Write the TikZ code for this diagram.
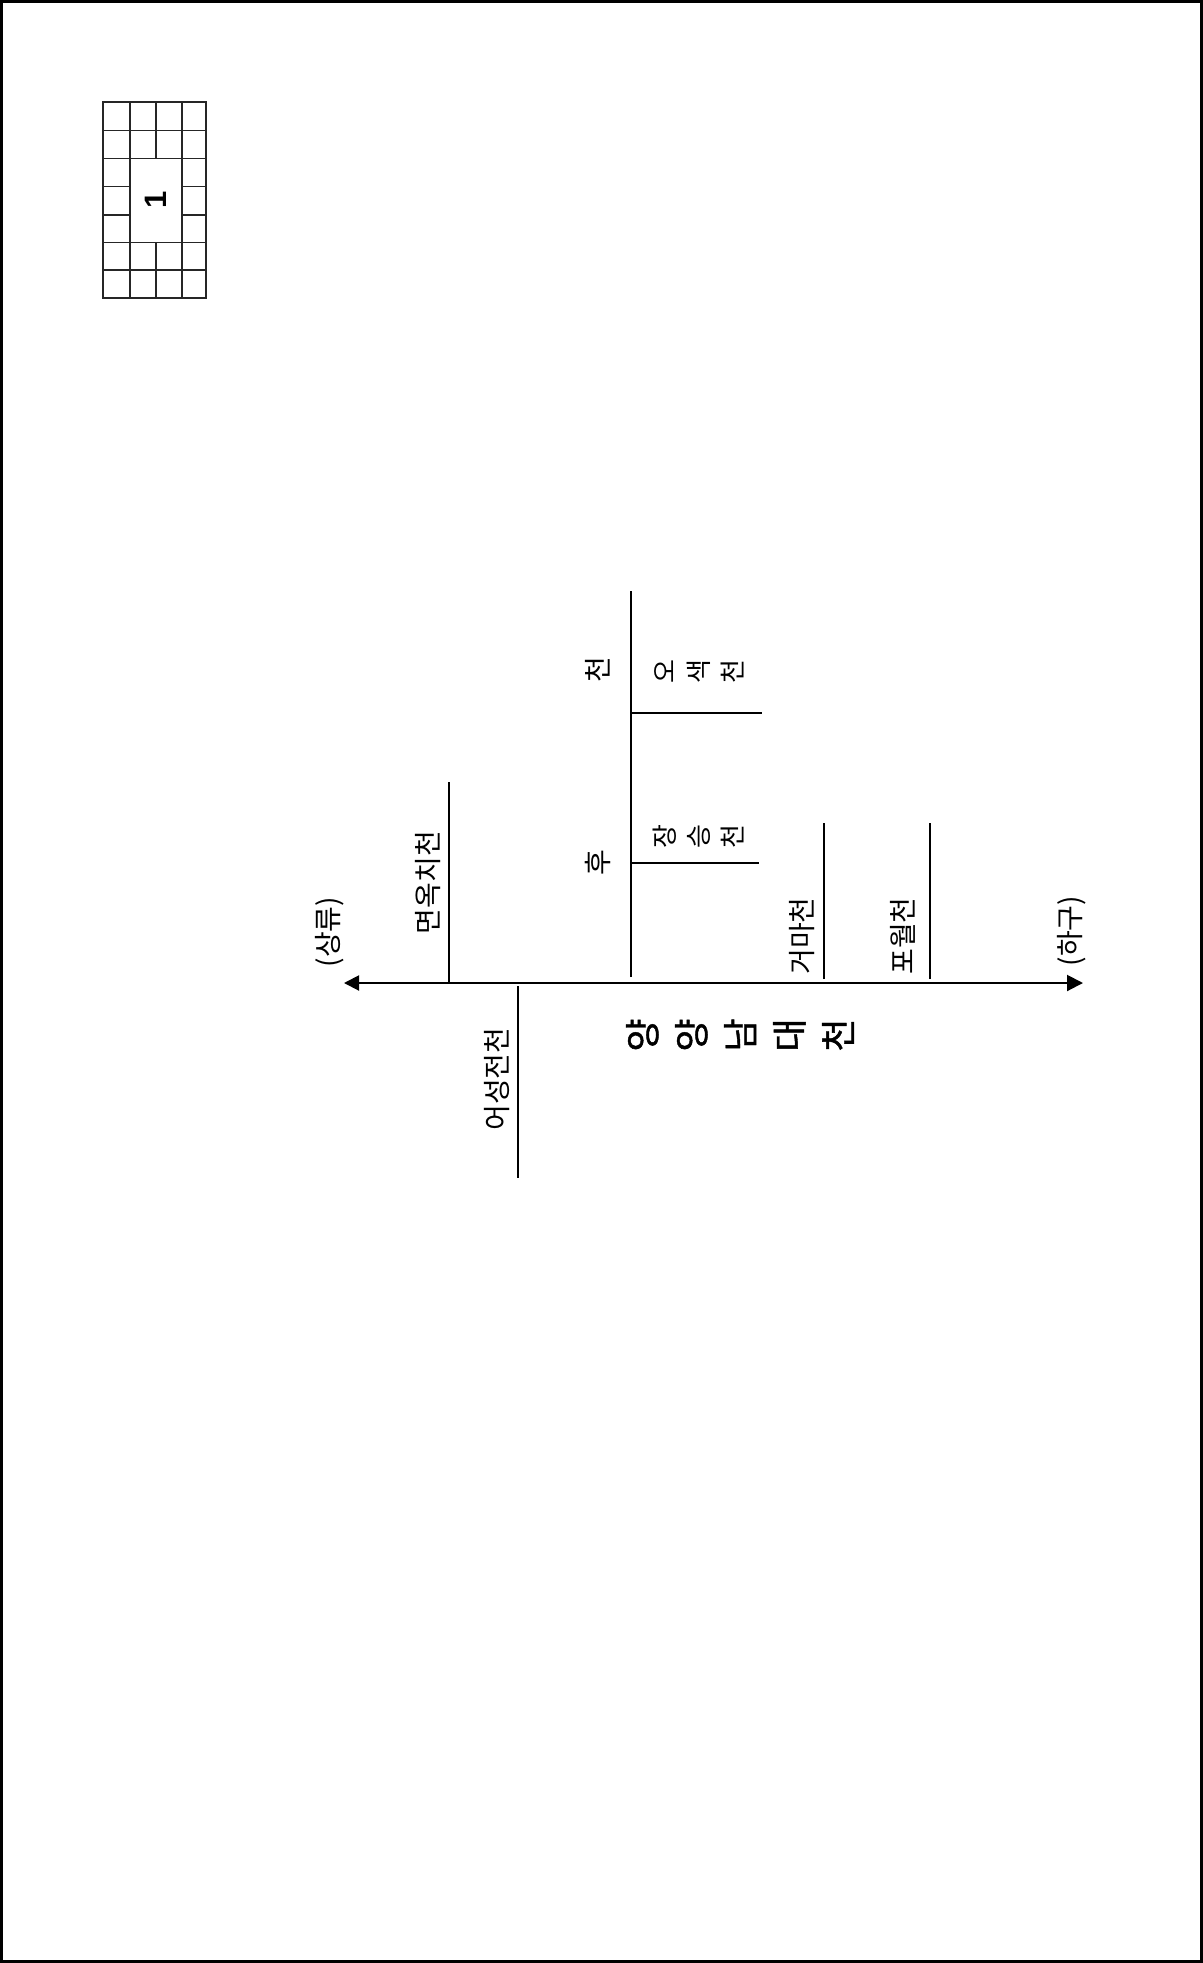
\documentclass[tikz,border=0pt]{standalone}
\usepackage{fontspec}
\setmainfont{Noto Sans CJK KR}
\newfontfamily\arialfont{Liberation Sans}
\newfontfamily\titlefont[FakeBold=1.2]{Noto Sans CJK KR}
\usetikzlibrary{arrows.meta}

\begin{document}
\begin{tikzpicture}[x=0.5pt,y=-0.5pt]
    \tikzset{
        stream/.style={line width=1pt},
        flow/.style={line width=1pt, {Triangle[length=7.5pt,width=7.5pt]}-{Triangle[length=8pt,width=8pt]}},
        rtxt/.style={rotate=90, inner sep=0pt, font=\fontsize{14}{16}\selectfont},
        vtxt/.style={rotate=90, inner sep=0pt, align=center, font=\fontsize{13}{17}\selectfont},
        cell/.style={draw=black!85, line width=0.75pt}
    }
    \useasboundingbox (0,0) rectangle (1203,1963);
    \draw[line width=1.5pt] (1.5,1.5) rectangle (1201.5,1961.5);

    % sheet index
    \draw[cell] (103,102) rectangle (206,298);
    \foreach \y in {130.7,158.3,242.3,270}
        \draw[cell] (103,\y) -- (206,\y);
    \foreach \y in {186.7,215} {
        \draw[cell] (103,\y) -- (130,\y);
        \draw[cell] (182,\y) -- (206,\y);
    }
    \foreach \x in {130,182}
        \draw[cell] (\x,102) -- (\x,298);
    \draw[cell] (156,102) -- (156,158.3);
    \draw[cell] (156,242.3) -- (156,298);
    \node[rotate=90, inner sep=0pt, font=\arialfont\bfseries\fontsize{15.5}{15.5}\selectfont] (sheet) at (156,200) {1};

    % main river
    \coordinate (up) at (344,983);
    \coordinate (down) at (1083,983);
    \draw[flow] (up) -- (down);
    \node[rtxt] (sang) at (330,932) {(상류)};
    \node[rtxt] (hagu) at (1072,931) {(하구)};
    \node[vtxt, font=\titlefont\fontsize{18}{24.5}\selectfont] (main) at (740,1035) {양\\양\\남\\대\\천};

    % tributaries
    \coordinate (myeon0) at (449,983);
    \coordinate (myeon1) at (449,782);
    \coordinate (eo0) at (517.5,986);
    \coordinate (eo1) at (517.5,1178);
    \coordinate (hu0) at (631,977);
    \coordinate (hu1) at (631,591);
    \coordinate (osaek0) at (631,712.7);
    \coordinate (osaek1) at (762,712.7);
    \coordinate (jang0) at (631,862.7);
    \coordinate (jang1) at (759,862.7);
    \coordinate (geoma0) at (824.3,979);
    \coordinate (geoma1) at (824.3,823);
    \coordinate (powol0) at (930.3,979);
    \coordinate (powol1) at (930.3,823);

    \draw[stream] (myeon0) -- (myeon1);
    \draw[stream] (eo0) -- (eo1);
    \draw[stream] (hu0) -- (hu1);
    \draw[stream] (osaek0) -- (osaek1);
    \draw[stream] (jang0) -- (jang1);
    \draw[stream] (geoma0) -- (geoma1);
    \draw[stream] (powol0) -- (powol1);

    \node[rtxt] (myeon) at (428.3,882.5) {면옥치천};
    \node[rtxt] (eoseong) at (496.7,1079) {어성전천};
    \node[rtxt] (hu) at (598,863) {후};
    \node[rtxt] (huc) at (598,670) {천};
    \node[vtxt] (osaek) at (699,672) {오\\색\\천};
    \node[vtxt] (jang) at (698,837) {장\\승\\천};
    \node[rtxt] (geoma) at (801.7,936) {거마천};
    \node[rtxt] (powol) at (903.3,936) {포월천};
\end{tikzpicture}
\end{document}
